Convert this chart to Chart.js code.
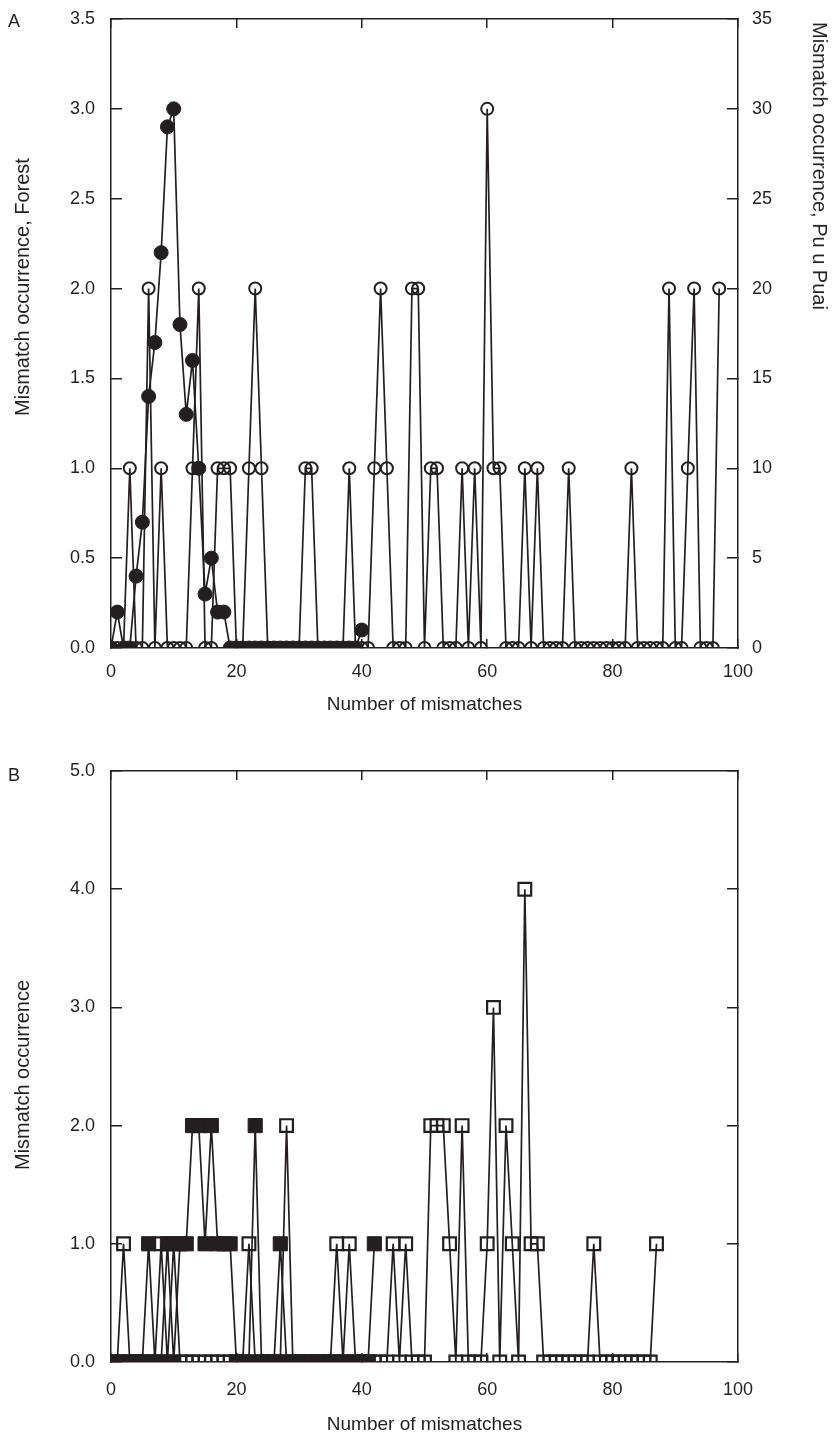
<!DOCTYPE html>
<html>
<head>
<meta charset="utf-8">
<script src="https://cdn.jsdelivr.net/npm/chart.js@4/dist/chart.umd.min.js"></script>
<style>
  html, body { margin: 0; padding: 0; background: #ffffff; }
  body { position: relative; width: 836px; height: 1441px; overflow: hidden;
         font-family: "Liberation Sans", Arial, Helvetica, sans-serif; color: #231f20; }
  canvas { position: absolute; left: 0; }
  .txt { position: absolute; white-space: nowrap; line-height: 1; }
  .rotL { transform: translate(-50%, -50%) rotate(-90deg); }
  .rotR { transform: translate(-50%, -50%) rotate(90deg); }
</style>
</head>
<body>
<canvas id="chartA" width="836" height="720" style="top:0px"></canvas>
<canvas id="chartB" width="836" height="721" style="top:720px"></canvas>

<div class="txt" style="left:8px; top:12px; font-size:18px;">A</div>
<div class="txt" style="left:8px; top:766px; font-size:18px;">B</div>
<div class="txt rotL" style="left:22px; top:287px; font-size:20px;">Mismatch occurrence, Forest</div>
<div class="txt rotR" style="left:820px; top:166px; font-size:20px;">Mismatch occurrence, Pu u Puai</div>
<div class="txt rotL" style="left:22px; top:1075px; font-size:20px;">Mismatch occurrence</div>

<script>
// ---------- Data (x = number of mismatches, index of each value) ----------
// Panel A, filled circles: Forest (left axis), mismatches 0..40
const forestA = [0, 0.2, 0, 0, 0.4, 0.7, 1.4, 1.7, 2.2, 2.9,
                 3.0, 1.8, 1.3, 1.6, 1.0, 0.3, 0.5, 0.2, 0.2, 0,
                 0, 0, 0, 0, 0, 0, 0, 0, 0, 0,
                 0, 0, 0, 0, 0, 0, 0, 0, 0, 0,
                 0.1];
// Panel A, open circles: Pu u Puai (right axis), mismatches 0..97
const puuA = [0, 0, 0, 10, 0, 0, 20, 0, 10, 0,
              0, 0, 0, 10, 20, 0, 0, 10, 10, 10,
              0, 0, 10, 20, 10, 0, 0, 0, 0, 0,
              0, 10, 10, 0, 0, 0, 0, 0, 10, 0,
              0, 0, 10, 20, 10, 0, 0, 0, 20, 20,
              0, 10, 10, 0, 0, 0, 10, 0, 10, 0,
              30, 10, 10, 0, 0, 0, 10, 0, 10, 0,
              0, 0, 0, 10, 0, 0, 0, 0, 0, 0,
              0, 0, 0, 10, 0, 0, 0, 0, 0, 20,
              0, 0, 10, 20, 0, 0, 0, 20];
// Panel B, filled squares: mismatches 0..42
const forestB = [0, 0, 0, 0, 0, 0, 1, 0, 0, 1,
                 0, 1, 1, 2, 2, 1, 2, 1, 1, 1,
                 0, 0, 0, 2, 0, 0, 0, 1, 0, 0,
                 0, 0, 0, 0, 0, 0, 0, 0, 0, 0,
                 0, 0, 1];
// Panel B, open squares: mismatches 0..87
const puuB = [0, 0, 1, 0, 0, 0, 0, 0, 1, 0,
              1, 0, 0, 0, 0, 0, 0, 0, 0, 0,
              0, 0, 1, 0, 0, 0, 0, 0, 2, 0,
              0, 0, 0, 0, 0, 0, 1, 0, 1, 0,
              0, 0, 0, 0, 0, 1, 0, 1, 0, 0,
              0, 2, 2, 2, 1, 0, 2, 0, 0, 0,
              1, 3, 0, 2, 1, 0, 4, 1, 1, 0,
              0, 0, 0, 0, 0, 0, 0, 1, 0, 0,
              0, 0, 0, 0, 0, 0, 0, 1];
// Axis tick settings
const xTicksStep = 20;
const yTicksA = [0, 0.5, 1.0, 1.5, 2.0, 2.5, 3.0, 3.5];
const y2TicksA = [0, 5, 10, 15, 20, 25, 30, 35];
const yTicksB = [0, 1, 2, 3, 4, 5];

// ---------- Styling ----------
const ink = '#231f20';
Chart.defaults.font.family = '"Liberation Sans", Arial, Helvetica, sans-serif';
Chart.defaults.color = ink;

const toPoints = vals => vals.map((v, i) => ({ x: i, y: v }));

function frameGrid(len) {
  return { drawOnChartArea: false, drawTicks: true, tickLength: len, color: ink, lineWidth: 1.5 };
}
const border = { display: true, color: ink, width: 1.5 };

function xAxes(bottomHeight, labelPad, titlePad) {
  return {
    x: {
      type: 'linear', position: 'bottom', min: 0, max: 100,
      ticks: { stepSize: xTicksStep, padding: labelPad, font: { size: 18 }, color: ink, maxRotation: 0 },
      grid: frameGrid(-9), border: border,
      title: { display: true, text: 'Number of mismatches', font: { size: 19 }, color: ink,
               padding: { top: 0, bottom: titlePad } },
      afterFit: s => { s.height = bottomHeight; s.paddingLeft = 0; s.paddingRight = 0; }
    },
    xTop: {
      type: 'linear', position: 'top', min: 0, max: 100,
      ticks: { stepSize: xTicksStep, display: false },
      grid: frameGrid(-9), border: border,
      afterFit: s => { s.height = 0; s.paddingLeft = 0; s.paddingRight = 0; }
    }
  };
}

function fixedTicks(list) {
  return function (scale) { scale.ticks = list.map(v => ({ value: v })); };
}
function vFit(width) {
  return function (s) { s.width = width; s.paddingTop = 0; s.paddingBottom = 0; };
}

const lineW = 1.7;

// ---------- Panel A ----------
new Chart(document.getElementById('chartA'), {
  type: 'line',
  data: {
    datasets: [
      { label: 'Forest', data: toPoints(forestA), yAxisID: 'y',
        borderColor: ink, borderWidth: lineW, tension: 0, fill: false,
        pointStyle: 'circle', pointRadius: 7, pointBackgroundColor: ink,
        pointBorderColor: ink, pointBorderWidth: 1, order: 0 },
      { label: 'Pu u Puai', data: toPoints(puuA), yAxisID: 'y2',
        borderColor: ink, borderWidth: lineW, tension: 0, fill: false,
        pointStyle: 'circle', pointRadius: 6, pointBackgroundColor: 'rgba(255,255,255,0)',
        pointBorderColor: ink, pointBorderWidth: 2, order: 1 }
    ]
  },
  options: {
    responsive: false, animation: false, events: [],
    layout: { padding: { top: 19, left: 0, right: 0, bottom: 0 } },
    plugins: { legend: { display: false }, tooltip: { enabled: false } },
    scales: Object.assign(xAxes(72, 22, 4), {
      y: {
        type: 'linear', position: 'left', min: 0, max: 3.5,
        afterBuildTicks: fixedTicks(yTicksA),
        ticks: { padding: 27, font: { size: 18 }, color: ink, callback: v => Number(v).toFixed(1) },
        grid: frameGrid(-11), border: border,
        afterFit: vFit(111)
      },
      y2: {
        type: 'linear', position: 'right', min: 0, max: 35,
        afterBuildTicks: fixedTicks(y2TicksA),
        ticks: { padding: 25, font: { size: 18 }, color: ink, callback: v => String(v) },
        grid: frameGrid(-11), border: border,
        afterFit: vFit(98)
      }
    })
  }
});

// ---------- Panel B ----------
new Chart(document.getElementById('chartB'), {
  type: 'line',
  data: {
    datasets: [
      { label: 'Forest', data: toPoints(forestB), yAxisID: 'y',
        borderColor: ink, borderWidth: lineW, tension: 0, fill: false,
        pointStyle: 'rect', pointRadius: 10, pointBackgroundColor: ink,
        pointBorderColor: ink, pointBorderWidth: 1, order: 0 },
      { label: 'Pu u Puai', data: toPoints(puuB), yAxisID: 'y',
        borderColor: ink, borderWidth: lineW, tension: 0, fill: false,
        pointStyle: 'rect', pointRadius: 9, pointBackgroundColor: 'rgba(255,255,255,0)',
        pointBorderColor: ink, pointBorderWidth: 2.2, order: 1 }
    ]
  },
  options: {
    responsive: false, animation: false, events: [],
    layout: { padding: { top: 51, left: 0, right: 0, bottom: 0 } },
    plugins: { legend: { display: false }, tooltip: { enabled: false } },
    scales: Object.assign(xAxes(79, 26, 5), {
      y: {
        type: 'linear', position: 'left', min: 0, max: 5,
        afterBuildTicks: fixedTicks(yTicksB),
        ticks: { padding: 27, font: { size: 18 }, color: ink, callback: v => Number(v).toFixed(1) },
        grid: frameGrid(-11), border: border,
        afterFit: vFit(111)
      },
      y2: {
        type: 'linear', position: 'right', min: 0, max: 5,
        afterBuildTicks: fixedTicks(yTicksB),
        ticks: { display: false },
        grid: frameGrid(-11), border: border,
        afterFit: vFit(98)
      }
    })
  }
});
</script>
</body>
</html>
